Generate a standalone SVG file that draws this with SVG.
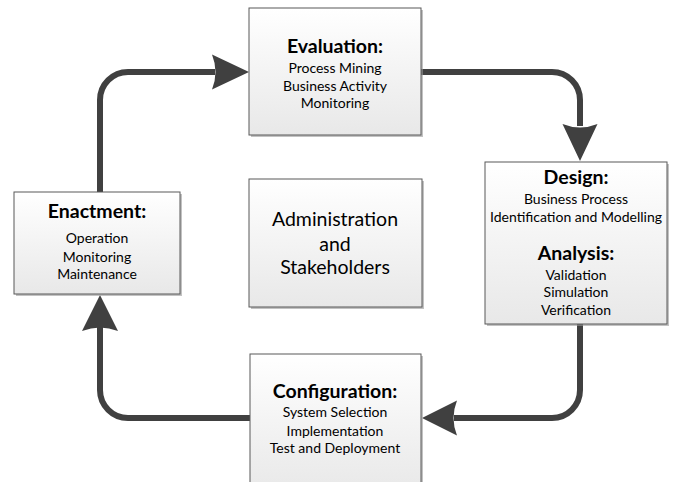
<svg xmlns="http://www.w3.org/2000/svg" width="686" height="482" viewBox="0 0 686 482">
<defs>
<linearGradient id="g" x1="0" y1="0" x2="0" y2="1">
<stop offset="0" stop-color="#ffffff"/>
<stop offset="1" stop-color="#e8e8e8"/>
</linearGradient>
<style>
.box{fill:url(#g);stroke:#595959;stroke-width:1}
.sh{fill:#9a9a9a;opacity:0.6}
.t{font-family:Lato,"Open Sans",sans-serif;font-weight:bold;font-size:19.5px;fill:#000;text-anchor:middle}
.s{font-family:Lato,"Open Sans",sans-serif;font-size:14px;fill:#000;text-anchor:middle}
.a{font-family:Lato,"Open Sans",sans-serif;font-size:19.5px;fill:#000;text-anchor:middle}
.ln{fill:none;stroke:#404040;stroke-width:6}
.hd{fill:#404040}
</style>
</defs>
<rect width="686" height="482" fill="#fff"/>
<g id="connectors">
<path class="ln" d="M100,192 V100 A28,28 0 0 1 128,72 H215"/>
<path class="hd" d="M249,72 L212,54.5 Q219,72 212,89.5 Z"/>
<path class="ln" d="M421,72 H552 A28,28 0 0 1 580,100 V126"/>
<path class="hd" d="M580,161 L562.5,124 Q580,131 597.5,124 Z"/>
<path class="ln" d="M580,324 V390 A28,28 0 0 1 552,418 H454"/>
<path class="hd" d="M422,418 L457,400.5 Q450,418 457,435.5 Z"/>
<path class="ln" d="M250,418 H128 A28,28 0 0 1 100,390 V327"/>
<path class="hd" d="M100,295 L82,331 Q100,324 118,331 Z"/>
</g>
<g id="evaluation">
<rect class="sh" x="251" y="10" width="172" height="127"/>
<rect class="box" x="249" y="8" width="172" height="127"/>
<text class="t" x="335" y="53">Evaluation:</text>
<text class="s" x="335" y="73">Process Mining</text>
<text class="s" x="335" y="91">Business Activity</text>
<text class="s" x="335" y="108">Monitoring</text>
</g>
<g id="design">
<rect class="sh" x="487" y="164" width="182" height="162"/>
<rect class="box" x="485" y="162" width="182" height="162"/>
<text class="t" x="576" y="184">Design:</text>
<text class="s" x="576" y="204">Business Process</text>
<text class="s" x="576" y="222">Identification and Modelling</text>
<text class="t" x="576" y="260">Analysis:</text>
<text class="s" x="576" y="280">Validation</text>
<text class="s" x="576" y="297">Simulation</text>
<text class="s" x="576" y="315">Verification</text>
</g>
<g id="enactment">
<rect class="sh" x="16" y="194" width="166" height="102"/>
<rect class="box" x="14" y="192" width="166" height="102"/>
<text class="t" x="97" y="218">Enactment:</text>
<text class="s" x="97" y="243">Operation</text>
<text class="s" x="97" y="262">Monitoring</text>
<text class="s" x="97" y="279">Maintenance</text>
</g>
<g id="admin">
<rect class="sh" x="251" y="181" width="173" height="128"/>
<rect class="box" x="249" y="179" width="173" height="128"/>
<text class="a" x="335" y="226">Administration</text>
<text class="a" x="335" y="251">and</text>
<text class="a" x="335" y="274">Stakeholders</text>
</g>
<g id="configuration">
<rect class="sh" x="252" y="356" width="171" height="140"/>
<rect class="box" x="250" y="354" width="171" height="140"/>
<text class="t" x="335" y="398">Configuration:</text>
<text class="s" x="335" y="417">System Selection</text>
<text class="s" x="335" y="436">Implementation</text>
<text class="s" x="335" y="453">Test and Deployment</text>
</g>
</svg>
